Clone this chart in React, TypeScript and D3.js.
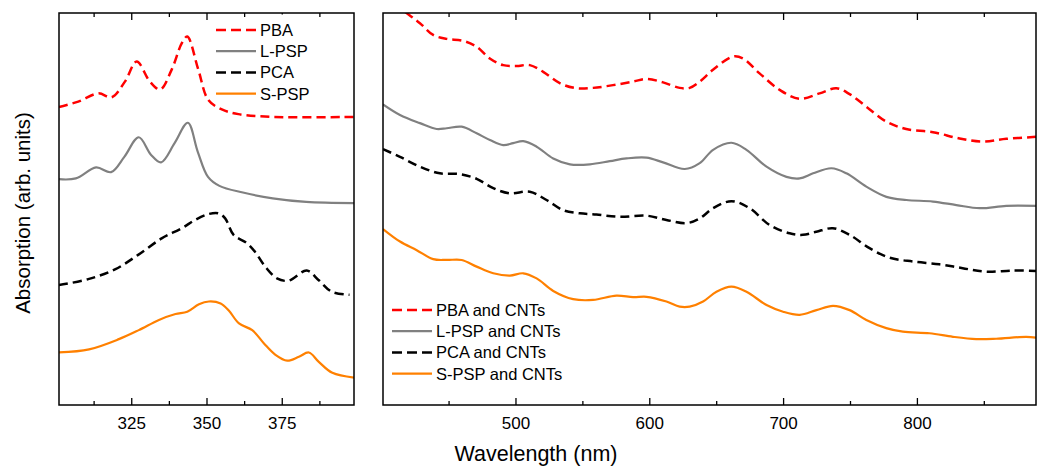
import React, { useEffect, useRef } from "react";
import * as d3 from "d3";

// left panel: pure compounds (nm, arb. units)
const pbaNm = [301, 307.4, 314.1, 318.5, 322.9, 326.8, 331.2, 334.6, 338.4, 341.8, 343.6, 347.3, 350.6, 355.1, 360.6, 371.7, 399];
const pbaAbs = [7.6, 7.74, 7.95, 7.85, 8.25, 8.76, 8.25, 8.05, 8.55, 9.23, 9.4, 8.55, 7.78, 7.54, 7.42, 7.35, 7.35];

const lpspNm = [301, 306.6, 313.3, 318.3, 322.7, 327.5, 331.6, 334.9, 339.4, 343.8, 347.1, 350.5, 354.3, 362.1, 372, 383.1, 399];
const lpspAbs = [5.76, 5.78, 6.06, 5.94, 6.33, 6.83, 6.38, 6.19, 6.68, 7.2, 6.46, 5.82, 5.59, 5.42, 5.27, 5.18, 5.15];

const pcaNm = [301, 310.7, 319.6, 327.3, 335.1, 341.8, 346.2, 350.6, 354, 356.2, 359, 363.4, 366.1, 369.5, 373.4, 377.2, 383.3, 387.2, 391.6, 397.5];
const pcaAbs = [3.06, 3.21, 3.46, 3.83, 4.25, 4.51, 4.72, 4.87, 4.89, 4.76, 4.34, 4.13, 3.91, 3.53, 3.23, 3.17, 3.43, 3.19, 2.89, 2.81];

const spspNm = [301, 311, 320.9, 327.5, 334.2, 339.7, 343.6, 347.5, 350.8, 354.7, 357.4, 360.8, 365.2, 369.1, 372.9, 376.8, 380.7, 384, 387.3, 391.8, 399];
const spspAbs = [1.34, 1.42, 1.68, 1.91, 2.17, 2.32, 2.38, 2.57, 2.64, 2.59, 2.41, 2.08, 1.91, 1.57, 1.28, 1.13, 1.23, 1.34, 1.1, 0.82, 0.7];

// right panel: compounds with CNTs
const pbaCntNm = [401, 417.4, 428.6, 438.5, 448.5, 460.9, 470.9, 480.8, 490.8, 500.8, 510.7, 520.7, 533.1, 545.6, 558, 572.9, 587.9, 597.9, 610.3, 622.7, 630.2, 637.7, 647.6, 662.5, 670, 682.4, 697.4, 712.4, 727.3, 739.8, 749.7, 762.2, 777.1, 792, 812, 831.9, 849.3, 866.8, 889];
const pbaCntAbs = [10.46, 10.03, 9.74, 9.44, 9.34, 9.29, 9.14, 8.84, 8.67, 8.65, 8.67, 8.5, 8.21, 8.08, 8.09, 8.16, 8.25, 8.32, 8.23, 8.09, 8.09, 8.25, 8.55, 8.89, 8.84, 8.46, 8.04, 7.81, 7.95, 8.08, 7.93, 7.61, 7.23, 7.04, 6.96, 6.8, 6.72, 6.79, 6.84];

const lpspCntNm = [401, 413.7, 428.6, 441.1, 448.6, 459.8, 471, 480.9, 490.8, 498.3, 505.8, 515.8, 528.2, 540.7, 555.6, 570.5, 583, 597.9, 610.3, 626.5, 637.7, 647.7, 661.4, 672.6, 687.6, 702.5, 712.4, 722.4, 736.1, 747.3, 762.2, 777.2, 792.1, 812, 829.5, 846.9, 866.8, 889];
const lpspCntAbs = [7.67, 7.4, 7.19, 7.04, 7.06, 7.1, 6.93, 6.76, 6.63, 6.68, 6.73, 6.59, 6.29, 6.14, 6.14, 6.22, 6.29, 6.31, 6.19, 6.02, 6.17, 6.51, 6.69, 6.51, 6.08, 5.82, 5.78, 5.91, 6.04, 5.91, 5.57, 5.31, 5.23, 5.19, 5.1, 5.02, 5.08, 5.08];

const pcaCntNm = [401, 413.7, 428.6, 443.5, 458.5, 471, 483.4, 495.8, 510.7, 523.2, 535.6, 548.1, 560.5, 577.9, 597.9, 612.8, 627.8, 637.7, 647.7, 661.4, 675, 690, 704.9, 714.8, 724.8, 737.2, 749.7, 764.6, 779.5, 796.9, 816.8, 834.2, 851.7, 871.6, 889];
const pcaCntAbs = [6.53, 6.33, 6.08, 5.91, 5.89, 5.77, 5.53, 5.4, 5.44, 5.23, 4.97, 4.89, 4.86, 4.8, 4.83, 4.72, 4.64, 4.76, 5.02, 5.2, 5.02, 4.59, 4.38, 4.34, 4.42, 4.51, 4.34, 4.0, 3.76, 3.66, 3.59, 3.49, 3.4, 3.43, 3.42];

const spspCntNm = [401, 413.7, 426.2, 438.5, 448.5, 459.8, 471, 483.4, 495.8, 505.8, 515.8, 528.2, 543.1, 558, 575.5, 587.9, 597.9, 612.8, 622.7, 630.2, 640.2, 650.2, 661.4, 672.6, 687.6, 700, 712.4, 724.9, 737.3, 749.7, 762.2, 777.1, 789.5, 809.4, 826.9, 844.3, 859.2, 881.6, 889];
const spspCntAbs = [4.49, 4.17, 3.95, 3.72, 3.7, 3.7, 3.53, 3.36, 3.3, 3.36, 3.23, 2.91, 2.7, 2.68, 2.79, 2.75, 2.76, 2.64, 2.51, 2.51, 2.64, 2.89, 3.02, 2.89, 2.55, 2.38, 2.3, 2.42, 2.53, 2.42, 2.17, 1.96, 1.87, 1.83, 1.74, 1.68, 1.69, 1.74, 1.72];

// ticks
const leftMajor = [325, 350, 375];
const leftMinor = [312.5, 337.5, 362.5, 387.5];
const rightMajor = [500, 600, 700, 800];
const rightMinor = [450, 550, 650, 750, 850];

const leftNames = ["PBA", "L-PSP", "PCA", "S-PSP"];
const rightNames = ["PBA and CNTs", "L-PSP and CNTs", "PCA and CNTs", "S-PSP and CNTs"];
const colors = ["#ff0000", "#808080", "#000000", "#ff8000"];
const dashed = [true, false, true, false];

const FONT = "'Liberation Sans', Arial, sans-serif";

export default function App() {
  const ref = useRef<SVGSVGElement>(null);

  useEffect(() => {
    const svg = d3.select(ref.current);
    svg.selectAll("*").remove();

    var top = 13, bottom = 405;
    var y = d3.scaleLinear().domain([0, 10]).range([bottom, top]);

    function panel(id: string, x0: number, x1: number, domain: number[], major: number[], minor: number[],
      series: number[][][], names: string[], legendX: number, legendY: number, legendBg: boolean) {
      var x = d3.scaleLinear().domain(domain).range([x0, x1]);
      var g = svg.append("g");

      g.append("clipPath").attr("id", id)
        .append("rect").attr("x", x0).attr("y", top).attr("width", x1 - x0).attr("height", bottom - top);

      // ticks bottom + top (inward)
      var ax = g.append("g").attr("transform", "translate(0," + bottom + ")")
        .call(d3.axisBottom(x).tickValues(major).tickSize(-7).tickPadding(12).tickFormat(d3.format("d")));
      ax.append("g").call(d3.axisBottom(x).tickValues(minor).tickSize(-4).tickFormat(() => ""));
      var at = g.append("g").attr("transform", "translate(0," + top + ")")
        .call(d3.axisTop(x).tickValues(major).tickSize(-7).tickFormat(() => ""));
      at.append("g").call(d3.axisTop(x).tickValues(minor).tickSize(-4).tickFormat(() => ""));
      g.selectAll(".domain").remove();
      g.selectAll(".tick line").attr("stroke", "#000").attr("stroke-width", 1.3);
      ax.selectAll("text").style("font-family", FONT).style("font-size", "17px").attr("fill", "#000");

      // curves
      var line = d3.line<[number, number]>()
        .x(d => x(d[0])).y(d => y(d[1]))
        .curve(d3.curveCatmullRom.alpha(0.5));
      var lines = g.append("g").attr("clip-path", "url(#" + id + ")");
      series.forEach((s, i) => {
        lines.append("path")
          .datum(d3.zip(s[0], s[1]) as [number, number][])
          .attr("d", line)
          .attr("fill", "none")
          .attr("stroke", colors[i])
          .attr("stroke-width", dashed[i] ? 2.5 : 2.2)
          .attr("stroke-linejoin", "round")
          .attr("stroke-dasharray", dashed[i] ? "9,5" : null);
      });

      // frame
      g.append("rect").attr("x", x0).attr("y", top).attr("width", x1 - x0).attr("height", bottom - top)
        .attr("fill", "none").attr("stroke", "#000").attr("stroke-width", 1.5);

      // legend
      var lg = g.append("g");
      if (legendBg) {
        lg.append("rect").attr("x", legendX + 42).attr("y", top + 1.5).attr("width", 48).attr("height", 90).attr("fill", "#fff");
      }
      names.forEach((n, i) => {
        var by = legendY + i * 21.2;
        lg.append("line")
          .attr("x1", legendX).attr("x2", legendX + 40)
          .attr("y1", by - 6).attr("y2", by - 6)
          .attr("stroke", colors[i])
          .attr("stroke-width", dashed[i] ? 2.5 : 2.2)
          .attr("stroke-dasharray", dashed[i] ? "10,5" : null);
        lg.append("text")
          .attr("x", legendX + 44).attr("y", by)
          .style("font-family", FONT).style("font-size", "16.5px")
          .text(n);
      });
    }

    panel("clipL", 59, 354, [301, 399], leftMajor, leftMinor,
      [[pbaNm, pbaAbs], [lpspNm, lpspAbs], [pcaNm, pcaAbs], [spspNm, spspAbs]],
      leftNames, 216, 36, true);

    panel("clipR", 383, 1036, [401, 889], rightMajor, rightMinor,
      [[pbaCntNm, pbaCntAbs], [lpspCntNm, lpspCntAbs], [pcaCntNm, pcaCntAbs], [spspCntNm, spspCntAbs]],
      rightNames, 392, 316, false);

    // axis titles
    svg.append("text")
      .attr("x", 536).attr("y", 461)
      .attr("text-anchor", "middle")
      .style("font-family", FONT).style("font-size", "21.5px")
      .text("Wavelength (nm)");

    svg.append("text")
      .attr("transform", "translate(30," + 213 + ") rotate(-90)")
      .attr("text-anchor", "middle")
      .style("font-family", FONT).style("font-size", "20.5px")
      .text("Absorption (arb. units)");
  }, []);

  return (
    <div style={{ position: "absolute", left: 0, top: 0 }}>
      <svg ref={ref} width={1038} height={466} style={{ display: "block", background: "#fff" }}></svg>
    </div>
  );
}
